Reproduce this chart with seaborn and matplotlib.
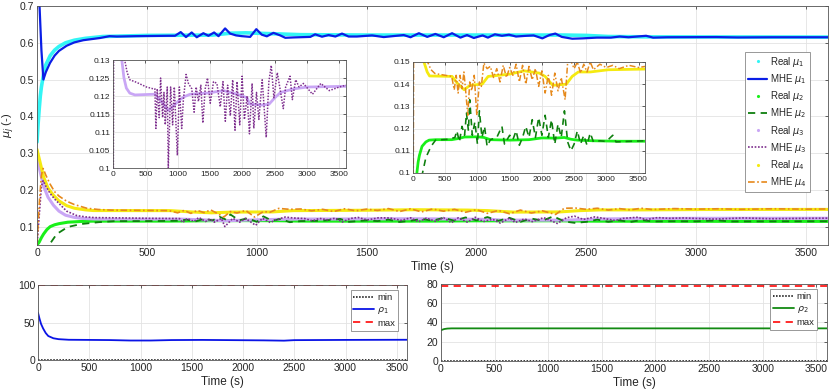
import numpy as np
import pandas as pd
import matplotlib
matplotlib.use("Agg")
import matplotlib.pyplot as plt
from matplotlib.lines import Line2D
import seaborn as sns

# ---- data ----
# Real mu_1
t_mu1_real = [0, 5, 10, 15, 20, 30, 40, 60, 80, 100, 130, 170, 220, 300, 500, 800, 880, 950,
              1050, 1200, 1500, 2000, 2400, 2500, 2600, 2800, 3600]
mu1_real = [0.33, 0.38, 0.42, 0.455, 0.48, 0.515, 0.54, 0.565, 0.58, 0.59, 0.6, 0.607, 0.612,
            0.617, 0.620, 0.621, 0.626, 0.627, 0.625, 0.622, 0.621, 0.621, 0.621, 0.62, 0.617,
            0.616, 0.6155]

# MHE mu_1
t_mu1_mhe = [0, 10, 20, 29, 40, 59, 80, 100, 135, 170, 211, 287, 330, 363, 450, 600, 628, 654,
             678, 704, 727, 757, 780, 806, 826, 856, 879, 906, 932, 970, 998, 1023, 1046, 1076,
             1107, 1130, 1168, 1244, 1266, 1297, 1327, 1358, 1388, 1418, 1456, 1525, 1578, 1669,
             1700, 1738, 1776, 1813, 1851, 1889, 1927, 1957, 1988, 2028, 2052, 2084, 2116, 2148,
             2180, 2228, 2260, 2300, 2332, 2359, 2388, 2436, 2484, 2548, 2612, 2652, 2692, 2772,
             2804, 2868, 3093, 3189, 3349, 3600]
mu1_mhe = [0.9, 0.72, 0.58, 0.5, 0.52, 0.545, 0.565, 0.578, 0.592, 0.601, 0.607, 0.613, 0.618,
           0.617, 0.618, 0.619, 0.619, 0.629, 0.6155, 0.628, 0.615, 0.626, 0.619, 0.628, 0.618,
           0.639, 0.625, 0.62, 0.618, 0.616, 0.637, 0.622, 0.6175, 0.627, 0.62, 0.6135, 0.6145,
           0.616, 0.623, 0.6165, 0.621, 0.617, 0.625, 0.617, 0.617, 0.62, 0.6155, 0.621, 0.615,
           0.626, 0.616, 0.624, 0.615, 0.626, 0.614, 0.621, 0.613, 0.62, 0.614, 0.623, 0.619,
           0.622, 0.617, 0.619, 0.62, 0.612, 0.621, 0.625, 0.616, 0.611, 0.612, 0.614, 0.614,
           0.617, 0.615, 0.619, 0.614, 0.615, 0.6155, 0.6145, 0.615, 0.615]

# Real mu_2
t_mu2_real = [0, 10, 20, 30, 45, 60, 80, 100, 140, 200, 250, 350, 600, 700, 800, 1000, 1100,
              1200, 1500, 1800, 2000, 2200, 2350, 2450, 2550, 2800, 3200, 3600]
mu2_real = [0.05, 0.058, 0.07, 0.08, 0.092, 0.1, 0.105, 0.108, 0.112, 0.114, 0.1148, 0.115,
            0.115, 0.1155, 0.1162, 0.1163, 0.116, 0.115, 0.1148, 0.115, 0.1158, 0.1157, 0.116,
            0.1152, 0.1148, 0.1145, 0.1143, 0.1143]

# MHE mu_2
t_mu2_mhe = [0, 30, 55, 90, 140, 200, 280, 350, 450, 550, 650, 680, 720, 760, 800, 830, 860,
             880, 920, 960, 1000, 1030, 1070, 1110, 1150, 1200, 1300, 1380, 1420, 1500, 1550,
             1600, 1650, 1700, 1750, 1800, 1850, 1900, 1950, 2000, 2050, 2100, 2150, 2200, 2250,
             2300, 2350, 2400, 2450, 2500, 2550, 2600, 2650, 2700, 2750, 2800, 2900, 3000, 3100,
             3150, 3300, 3600]
mu2_mhe = [0.0, 0.03, 0.05, 0.08, 0.099, 0.107, 0.112, 0.1148, 0.115, 0.1152, 0.116, 0.119,
           0.114, 0.121, 0.117, 0.127, 0.119, 0.133, 0.117, 0.123, 0.113, 0.128, 0.116, 0.121,
           0.112, 0.115, 0.116, 0.121, 0.113, 0.117, 0.115, 0.119, 0.1125, 0.116, 0.121, 0.116,
           0.124, 0.116, 0.125, 0.117, 0.126, 0.116, 0.124, 0.113, 0.122, 0.116, 0.128, 0.114,
           0.11, 0.113, 0.119, 0.113, 0.117, 0.1125, 0.118, 0.114, 0.1145, 0.1142, 0.117, 0.114,
           0.1142, 0.1145]

# Real mu_3
t_mu3_real = [0, 10, 20, 30, 50, 75, 100, 130, 170, 207, 260, 340, 650, 750, 855, 950, 1036,
              1100, 1192, 1450, 1710, 1917, 2073, 2110, 2300, 2410, 2500, 2590, 2800, 3005, 3600]
mu3_real = [0.28, 0.26, 0.235, 0.21, 0.18, 0.158, 0.142, 0.131, 0.125, 0.1222, 0.1208, 0.1203,
            0.1205, 0.1185, 0.116, 0.1175, 0.119, 0.1198, 0.1205, 0.1208, 0.1215, 0.1205,
            0.1195, 0.1178, 0.1175, 0.1177, 0.1195, 0.121, 0.122, 0.1225, 0.1227]

# MHE mu_3
t_mu3_mhe = [0, 10, 20, 28, 40, 60, 80, 100, 135, 181, 220, 260, 337, 400, 518, 622, 648, 663,
             684, 715, 736, 767, 788, 808, 839, 855, 891, 922, 948, 995, 1026, 1062, 1088, 1130,
             1166, 1218, 1254, 1285, 1321, 1358, 1389, 1425, 1461, 1503, 1554, 1606, 1658, 1700,
             1736, 1772, 1813, 1850, 1886, 1917, 1959, 1995, 2031, 2073, 2109, 2150, 2176, 2218,
             2254, 2306, 2368, 2409, 2446, 2487, 2539, 2591, 2632, 2668, 2736, 2772, 2824, 2876,
             2943, 3083, 3212, 3342, 3497, 3600]
mu3_mhe = [0.05, 0.13, 0.21, 0.225, 0.21, 0.19, 0.175, 0.163, 0.142, 0.13, 0.1265, 0.1245, 0.124,
           0.1235, 0.1225, 0.122, 0.122, 0.111, 0.122, 0.114, 0.125, 0.114, 0.121, 0.112, 0.1225,
           0.1, 0.1225, 0.112, 0.1225, 0.1035, 0.1225, 0.111, 0.119, 0.126, 0.1235, 0.122,
           0.1155, 0.1225, 0.1185, 0.123, 0.1125, 0.122, 0.125, 0.118, 0.124, 0.1235, 0.117,
           0.124, 0.113, 0.123, 0.1145, 0.1245, 0.1105, 0.124, 0.112, 0.1255, 0.1135, 0.12,
           0.1095, 0.1235, 0.111, 0.121, 0.1135, 0.1245, 0.1085, 0.124, 0.1285, 0.1195, 0.1265,
           0.121, 0.1165, 0.1225, 0.1255, 0.119, 0.1245, 0.1225, 0.1235, 0.1205, 0.1235, 0.1215,
           0.1225, 0.123]

# Real mu_4
t_mu4_real = [0, 10, 20, 30, 50, 75, 100, 135, 170, 220, 257, 606, 700, 793, 886, 1073, 1166,
              1493, 1726, 1959, 2050, 2169, 2379, 2470, 2565, 2752, 3032, 3600]
mu4_real = [0.31, 0.285, 0.26, 0.235, 0.205, 0.185, 0.17, 0.157, 0.15, 0.1455, 0.1437, 0.1435,
            0.14, 0.1375, 0.1395, 0.14, 0.1435, 0.1445, 0.146, 0.145, 0.1435, 0.1395, 0.14,
            0.1435, 0.1455, 0.1455, 0.1465, 0.1468]

# MHE mu_4
t_mu4_mhe = [0, 10, 20, 28, 40, 60, 80, 100, 135, 170, 226, 280, 340, 400, 500, 600, 640, 670,
             700, 730, 760, 790, 820, 850, 880, 910, 950, 990, 1030, 1060, 1100, 1150, 1200,
             1250, 1300, 1350, 1400, 1450, 1500, 1550, 1600, 1650, 1700, 1750, 1800, 1850, 1900,
             1950, 2000, 2050, 2100, 2150, 2200, 2250, 2300, 2360, 2400, 2450, 2500, 2550, 2600,
             2650, 2700, 2750, 2800, 2900, 3000, 3100, 3200, 3350, 3500, 3600]
mu4_mhe = [0.05, 0.16, 0.24, 0.258, 0.24, 0.215, 0.195, 0.183, 0.169, 0.16, 0.15, 0.1465, 0.1448,
           0.1445, 0.144, 0.1435, 0.1375, 0.144, 0.136, 0.144, 0.138, 0.1455, 0.136, 0.126,
           0.141, 0.137, 0.144, 0.126, 0.141, 0.139, 0.1495, 0.147, 0.148, 0.143, 0.147, 0.141,
           0.1485, 0.143, 0.1475, 0.144, 0.149, 0.141, 0.1485, 0.14, 0.148, 0.142, 0.147, 0.139,
           0.146, 0.136, 0.144, 0.135, 0.145, 0.137, 0.143, 0.133, 0.15, 0.1505, 0.147, 0.15,
           0.145, 0.149, 0.1455, 0.15, 0.1465, 0.149, 0.1475, 0.1485, 0.147, 0.1485, 0.1475, 0.148]

# rho_1 / rho_2 with bounds
t_rho1 = [0, 15, 30, 50, 75, 100, 150, 200, 300, 500, 700, 900, 1100, 1300, 1600, 2000, 2200,
          2400, 2500, 3000, 3600]
rho1 = [63, 55, 48, 42, 36, 32, 29, 27.8, 27, 26.8, 26.6, 26.0, 26.0, 26.6, 26.8, 26.4, 26.2,
        25.8, 26.5, 26.8, 27.0]
t_rho2 = [0, 30, 60, 100, 3600]
rho2 = [32, 33.2, 33.7, 33.9, 33.9]
t_bounds = [0, 3600]
rho1_min, rho1_max = [0, 0], [100, 100]
rho2_min, rho2_max = [0, 0], [77.5, 77.5]

C_CYAN = "#33F5F5"
C_BLUE = "#0A1EE6"
C_LIME = "#19F019"
C_DGREEN = "#0E7F0E"
C_LAV = "#C9A6F5"
C_PURP = "#7E2F8E"
C_YEL = "#F5EA10"
C_ORNG = "#E6891B"

sns.set_theme(style="whitegrid")
plt.rcParams["font.family"] = ["Liberation Sans", "DejaVu Sans"]
plt.rcParams["mathtext.fontset"] = "dejavusans"
plt.rcParams["axes.edgecolor"] = "#3a3a3a"
plt.rcParams["axes.linewidth"] = 0.6
plt.rcParams["grid.color"] = "#E3E3E3"
plt.rcParams["grid.linewidth"] = 0.6


def line(ax, t, v, **kw):
    df = pd.DataFrame({"t": t, "v": v})
    sns.lineplot(data=df, x="t", y="v", ax=ax, legend=False, sort=False, **kw)


def style_axes(ax, fs):
    ax.tick_params(direction="in", top=True, right=True, length=2.5, width=0.5,
                   labelsize=fs, pad=2, colors="#262626")
    ax.set_xlabel("")
    ax.set_ylabel("")
    for s in ax.spines.values():
        s.set_color("#555555")
        s.set_linewidth(0.6)


def draw_mu(ax, which, lw_scale=1.0):
    if 1 in which:
        line(ax, t_mu1_real, mu1_real, color=C_CYAN, lw=2.6 * lw_scale)
        line(ax, t_mu1_mhe, mu1_mhe, color=C_BLUE, lw=1.6 * lw_scale)
    if 2 in which:
        line(ax, t_mu2_real, mu2_real, color=C_LIME, lw=2.2 * lw_scale)
    if 3 in which:
        line(ax, t_mu3_real, mu3_real, color=C_LAV, lw=2.2 * lw_scale)
    if 4 in which:
        line(ax, t_mu4_real, mu4_real, color=C_YEL, lw=2.2 * lw_scale)
    if 2 in which:
        line(ax, t_mu2_mhe, mu2_mhe, color=C_DGREEN, lw=1.3 * lw_scale, linestyle=(0, (4, 3)))
    if 3 in which:
        line(ax, t_mu3_mhe, mu3_mhe, color=C_PURP, lw=1.2 * lw_scale, linestyle=(0, (1, 1)))
    if 4 in which:
        line(ax, t_mu4_mhe, mu4_mhe, color=C_ORNG, lw=1.2 * lw_scale,
             linestyle=(0, (4, 1.5, 1, 1.5)))


fig = plt.figure(figsize=(8.3, 3.92), dpi=100)

# ---- main panel ----
ax = fig.add_axes([0.0446, 0.375, 0.953, 0.6097])
draw_mu(ax, [1, 2, 3, 4])
ax.set_xlim(0, 3600)
ax.set_ylim(0.05, 0.7)
ax.set_xticks(np.arange(0, 3600, 500))
ax.set_yticks(np.arange(0.1, 0.71, 0.1))
ax.set_yticklabels(["0.1", "0.2", "0.3", "0.4", "0.5", "0.6", "0.7"])
style_axes(ax, 7.5)
ax.set_xlabel("Time (s)", fontsize=8.5, labelpad=2)
ax.set_ylabel(r"$\mu_j$ (-)", fontsize=8, labelpad=2)

handles = [
    Line2D([], [], color=C_CYAN, marker=".", ls="none", ms=2.5),
    Line2D([], [], color=C_BLUE, lw=1.6),
    Line2D([], [], color=C_LIME, marker=".", ls="none", ms=2.5),
    Line2D([], [], color=C_DGREEN, lw=1.3, ls=(0, (4, 3))),
    Line2D([], [], color=C_LAV, marker=".", ls="none", ms=2.5),
    Line2D([], [], color=C_PURP, lw=1.2, ls=(0, (1, 1))),
    Line2D([], [], color=C_YEL, marker=".", ls="none", ms=2.5),
    Line2D([], [], color=C_ORNG, lw=1.2, ls=(0, (4, 1.5, 1, 1.5))),
]
labels = [r"Real $\mu_1$", r"MHE $\mu_1$", r"Real $\mu_2$", r"MHE $\mu_2$",
          r"Real $\mu_3$", r"MHE $\mu_3$", r"Real $\mu_4$", r"MHE $\mu_4$"]
leg = ax.legend(handles, labels, loc="upper right", bbox_to_anchor=(0.977, 0.808),
                borderaxespad=0, fontsize=7, frameon=True, fancybox=False, framealpha=1,
                edgecolor="#888888", handlelength=2.0, handletextpad=0.3, labelspacing=0.33,
                borderpad=0.3)
leg.get_frame().set_linewidth(0.6)

# ---- inset: mu_3 ----
ins1 = fig.add_axes([0.1361, 0.5714, 0.2807, 0.2755])
ins1.set_facecolor("white")
draw_mu(ins1, [3], lw_scale=0.9)
ins1.set_xlim(0, 3600)
ins1.set_ylim(0.1, 0.13)
ins1.set_xticks(np.arange(0, 3600, 500))
ins1.set_yticks([0.1, 0.105, 0.11, 0.115, 0.12, 0.125, 0.13])
ins1.set_yticklabels(["0.1", "0.105", "0.11", "0.115", "0.12", "0.125", "0.13"])
style_axes(ins1, 6)

# ---- inset: mu_2 and mu_4 ----
ins2 = fig.add_axes([0.4976, 0.5587, 0.2795, 0.2832])
ins2.set_facecolor("white")
draw_mu(ins2, [2, 4], lw_scale=0.9)
ins2.set_xlim(0, 3600)
ins2.set_ylim(0.1, 0.15)
ins2.set_xticks(np.arange(0, 3600, 500))
ins2.set_yticks([0.1, 0.11, 0.12, 0.13, 0.14, 0.15])
ins2.set_yticklabels(["0.1", "0.11", "0.12", "0.13", "0.14", "0.15"])
style_axes(ins2, 6)

# ---- bottom panels ----
def rho_panel(rect, t, v, vmin, vmax, color, label, ylim, yticks):
    a = fig.add_axes(rect)
    line(a, t_bounds, vmin, color="black", lw=1.1, linestyle=(0, (1, 1)))
    line(a, t, v, color=color, lw=1.3)
    line(a, t_bounds, vmax, color="#FF1A1A", lw=1.3, linestyle=(0, (4, 3)))
    a.set_xlim(0, 3600)
    a.set_ylim(*ylim)
    a.set_xticks(np.arange(0, 3600, 500))
    a.set_yticks(yticks)
    style_axes(a, 7.5)
    a.set_xlabel("Time (s)", fontsize=8.5, labelpad=2)
    hs = [Line2D([], [], color="black", lw=1.1, ls=(0, (1, 1))),
          Line2D([], [], color=color, lw=1.3),
          Line2D([], [], color="#FF1A1A", lw=1.3, ls=(0, (4, 3)))]
    lg = a.legend(hs, ["min", label, "max"], loc="upper right",
                  bbox_to_anchor=(0.975, 0.93), borderaxespad=0, fontsize=6.8,
                  fancybox=False, framealpha=1, edgecolor="#888888", handlelength=2.2,
                  handletextpad=0.3, labelspacing=0.3, borderpad=0.3)
    lg.get_frame().set_linewidth(0.6)
    return a


rho_panel([0.0458, 0.0816, 0.4446, 0.1913], t_rho1, rho1, rho1_min, rho1_max,
          "#0A14E6", r"$\rho_1$", (0, 100), [0, 50, 100])
rho_panel([0.5313, 0.0791, 0.4651, 0.1964], t_rho2, rho2, rho2_min, rho2_max,
          "#128A12", r"$\rho_2$", (0, 80), [0, 20, 40, 60, 80])

fig.savefig("out.png", dpi=100)
